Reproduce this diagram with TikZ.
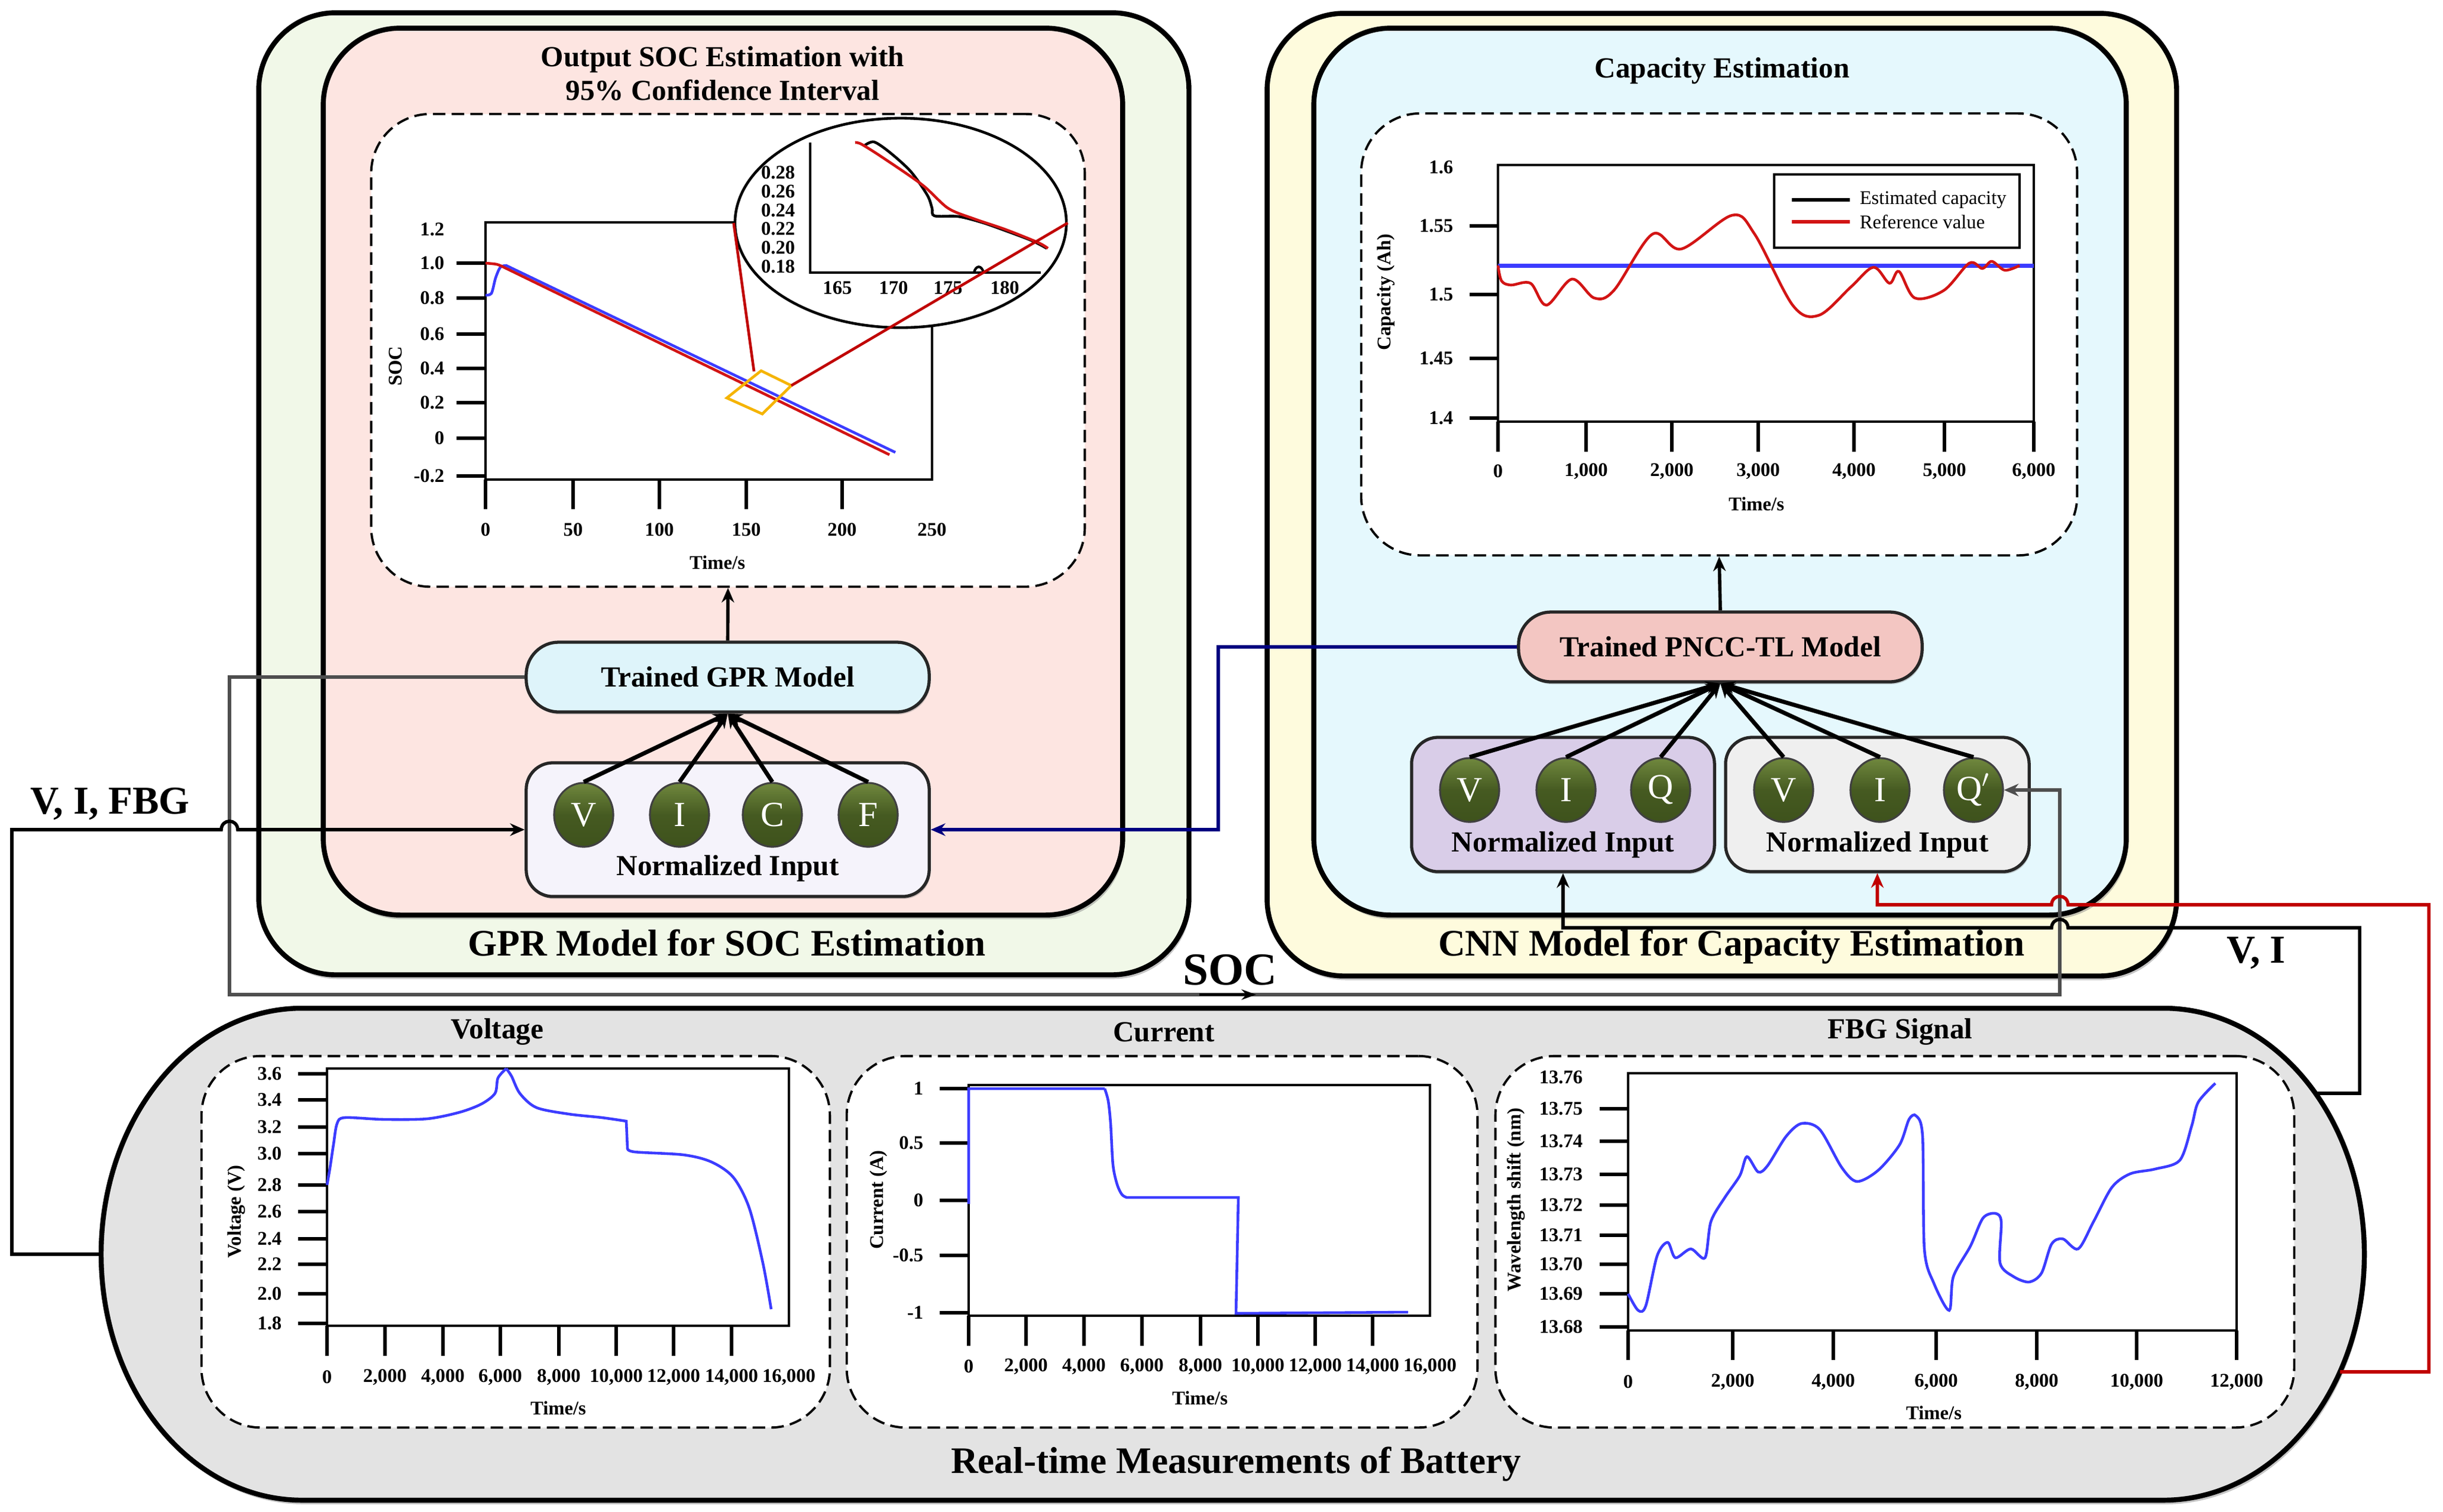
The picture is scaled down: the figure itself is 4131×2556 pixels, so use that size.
\documentclass[tikz,border=0pt]{standalone}
\usepackage{fontspec}
\setmainfont{Liberation Serif}
\usetikzlibrary{arrows.meta,shapes.geometric,shadows}
\definecolor{gprgreen}{RGB}{241,248,232}
\definecolor{gprpink}{RGB}{253,229,225}
\definecolor{cnnyellow}{RGB}{254,251,221}
\definecolor{cnncyan}{RGB}{229,248,253}
\definecolor{modelcyan}{RGB}{222,244,250}
\definecolor{modelpink}{RGB}{243,198,194}
\definecolor{inlav}{RGB}{245,243,251}
\definecolor{inpurple}{RGB}{217,205,232}
\definecolor{ingray}{RGB}{239,239,239}
\definecolor{batgray}{RGB}{227,227,227}
\definecolor{olivetop}{RGB}{112,136,62}
\definecolor{olivebot}{RGB}{62,82,28}
\definecolor{navyc}{RGB}{0,0,128}
\definecolor{redc}{RGB}{192,0,0}
\definecolor{grayc}{RGB}{78,78,78}
\definecolor{plotblue}{RGB}{60,60,255}
\definecolor{plotred}{RGB}{210,20,20}
\definecolor{amberc}{RGB}{245,180,0}
\tikzset{
  bigbox/.style={draw=black, line width=2.4pt, rounded corners=13mm, inner sep=0pt,
    drop shadow={shadow xshift=0.3mm, shadow yshift=-0.7mm, opacity=0.45}},
  dashbox/.style={draw=black, dash pattern=on 6pt off 3pt, line width=1.1pt, fill=white,
    rounded corners=10mm, inner sep=0pt},
  modelbox/.style={draw=black!85, line width=1.5pt, rounded corners=5.5mm, inner sep=0pt,
    font=\fontsize{14}{16}\selectfont\bfseries,
    drop shadow={shadow xshift=0.2mm, shadow yshift=-0.4mm, opacity=0.4}},
  inbox/.style={draw=black!85, line width=1.5pt, rounded corners=4.5mm, inner sep=0pt,
    drop shadow={shadow xshift=0.2mm, shadow yshift=-0.4mm, opacity=0.4}},
  inball/.style={ellipse, draw=black!75, line width=0.9pt, top color=olivetop, bottom color=olivebot,
    middle color=olivebot!85!olivetop,
    minimum width=10mm, minimum height=10.8mm, inner sep=0pt, text=white,
    font=\fontsize{17}{19}\selectfont},
  conn/.style={line width=1.6pt, -{Stealth[length=7pt,width=6pt]}},
  plainconn/.style={line width=1.6pt},
  linkarrow/.style={line width=2pt, -{Stealth[length=7pt,width=6pt]}},
  ttl/.style={font=\fontsize{14}{16.2}\selectfont\bfseries, inner sep=0pt, align=center},
  bigttl/.style={font=\fontsize{18}{21}\selectfont\bfseries, inner sep=0pt},
  sigttl/.style={font=\fontsize{19}{22}\selectfont\bfseries, inner sep=0pt},
  ticklab/.style={font=\fontsize{9.3}{11}\selectfont\bfseries, inner sep=0pt},
  axlab/.style={font=\fontsize{9.3}{11}\selectfont\bfseries, inner sep=0pt},
  leglab/.style={font=\fontsize{9.3}{11}\selectfont, inner sep=0pt, anchor=west},
  pframe/.style={line width=1.3pt},
  ptick/.style={line width=1.5pt},
  bluecurve/.style={plotblue, line width=1.3pt},
  redcurve/.style={plotred, line width=1.3pt}
}
\begin{document}
\begin{tikzpicture}[x=0.01cm, y=-0.01cm]
\useasboundingbox (0,0) rectangle (4131,2556);

% ================= GPR block =================
\node[bigbox, fill=gprgreen, minimum width=15.72cm, minimum height=16.26cm] (gprouter) at (1224,835) {};
\node[bigbox, fill=gprpink, minimum width=13.51cm, minimum height=14.99cm] (gprinner) at (1222.5,797.5) {};
\node[ttl] (gprtitle) at (1222,124) {Output SOC Estimation with\\95\% Confidence Interval};
\node[dashbox, minimum width=12.06cm, minimum height=7.99cm] (gprdash) at (1231,592.5) {};
\node[bigttl] (gprlabel) at (1229,1594) {GPR Model for SOC Estimation};

% SOC plot
\draw[pframe] (821,376) rectangle (1576,811);
\foreach \v/\yy [count=\i] in {1.2/388,1.0/445,0.8/504,0.6/565,0.4/623,0.2/681,0/741,-0.2/805}
  \node[ticklab, anchor=east] (socy\i) at (752,\yy) {\v};
\foreach \yy in {445,504,565,623,681,741,805} \draw[ptick] (772,\yy) -- (821,\yy);
\foreach \v/\xx [count=\i] in {0/821,50/969,100/1115,150/1262,200/1424,250/1576}
  \node[ticklab] (socx\i) at (\xx,896) {\v};
\foreach \xx in {821,969,1115,1262,1424} \draw[ptick] (\xx,811) -- (\xx,861);
\node[axlab] (socxl) at (1213,951) {Time/s};
\node[axlab, rotate=90] (socyl) at (669,619) {SOC};
\draw[bluecurve] plot[smooth, tension=0.5] coordinates {(821,499) (831,496) (838,470) (846,452) (856,449)} -- (1514,765);
\draw[redcurve] plot[smooth, tension=0.5] coordinates {(821,445) (840,447) (852,452)} -- (1504,769);
\coordinate (ysqT) at (1287,627);
\coordinate (ysqR) at (1338,652);
\coordinate (ysqB) at (1289,700);
\coordinate (ysqL) at (1229,673);
\draw[amberc, line width=1.3pt] (ysqT) -- (ysqR) -- (ysqB) -- (ysqL) -- cycle;
% zoom inset
\node[ellipse, draw, line width=1.3pt, fill=white, minimum width=5.60cm, minimum height=3.54cm, inner sep=0pt] (zoomc) at (1523,377) {};
\draw[line width=1.2pt] (1370,241) -- (1370,461) -- (1760,461);
\foreach \v/\yy [count=\i] in {0.28/292,0.26/324,0.24/356,0.22/387,0.20/419,0.18/451}
  \node[ticklab, anchor=east] (insy\i) at (1345,\yy) {\v};
\foreach \v/\xx [count=\i] in {165/1416,170/1511,175/1603,180/1699}
  \node[ticklab] (insx\i) at (\xx,487) {\v};
\draw[black, line width=1.3pt] plot[smooth, tension=0.5] coordinates {(1462,246) (1478,240) (1505,258) (1540,290) (1568,330) (1576,352) (1580,365) (1620,366) (1660,376) (1700,390) (1745,407) (1770,420)};
\draw[redcurve] plot[smooth, tension=0.5] coordinates {(1446,241) (1457,244) (1495,268) (1560,313) (1603,352) (1647,370) (1700,388) (1755,410) (1772,420)};
\draw[black, line width=1.2pt] (1647,461) .. controls (1650,448) and (1660,448) .. (1663,461);
\draw[redc, line width=1.3pt] (1275,628) -- (zoomc.west);
\draw[redc, line width=1.3pt] (ysqR) -- (zoomc.east);

% model and inputs
\node[modelbox, fill=modelcyan, minimum width=6.81cm, minimum height=1.18cm] (gprmodel) at (1230.5,1145) {Trained GPR Model};
\node[inbox, fill=inlav, minimum width=6.81cm, minimum height=2.26cm] (gprin) at (1230.5,1403) {};
\node[ttl] (gprintxt) at (1230.5,1469) {Normalized Input};
\node[inball] (gV) at (987,1378) {V};
\node[inball] (gI) at (1149,1378) {I};
\node[inball] (gC) at (1306,1378) {C};
\node[inball] (gF) at (1468,1378) {F};
\foreach \c in {gV,gI,gC,gF} \draw[linkarrow] (\c.north) -- (gprmodel.south);
\draw[conn] (gprmodel.north) -- (gprdash.south);

% ================= CNN block =================
\node[bigbox, fill=cnnyellow, minimum width=15.37cm, minimum height=16.27cm] (cnnouter) at (2911.5,836.5) {};
\node[bigbox, fill=cnncyan, minimum width=13.73cm, minimum height=14.99cm] (cnninner) at (2908.5,797.5) {};
\node[ttl] (cnntitle) at (2912,120) {Capacity Estimation};
\node[dashbox, minimum width=12.10cm, minimum height=7.47cm] (cnndash) at (2907,565.5) {};
\node[bigttl] (cnnlabel) at (2928,1601) {CNN Model for Capacity Estimation};

% capacity plot
\draw[pframe] (2533,279) rectangle (3439,713);
\foreach \v/\yy [count=\i] in {1.6/283,1.55/382,1.5/498,1.45/606,1.4/707}
  \node[ticklab, anchor=east] (capy\i) at (2458,\yy) {\v};
\foreach \yy in {382,498,606,707} \draw[ptick] (2485,\yy) -- (2533,\yy);
\foreach \v/\xx [count=\i] in {0/2533,{1,000}/2682,{2,000}/2827,{3,000}/2973,{4,000}/3135,{5,000}/3288,{6,000}/3439}
  \node[ticklab] (capx\i) at (\xx,797) {\v};
\foreach \xx in {2533,2682,2827,2973,3135,3288,3439} \draw[ptick] (\xx,713) -- (\xx,764);
\node[axlab] (capxl) at (2970,852) {Time/s};
\node[axlab, rotate=90] (capyl) at (2344,494) {Capacity (Ah)};
\draw[plotblue, line width=2pt] (2533,449) -- (3439,449);
\draw[redcurve] plot[smooth, tension=0.55] coordinates {(2533,449) (2539,475) (2555,482) (2588,479) (2615,516) (2658,472) (2696,504) (2729,491) (2794,396) (2843,421) (2929,364) (2967,396) (3032,517) (3076,533) (3130,485) (3168,452) (3195,479) (3211,459) (3238,504) (3287,491) (3330,445) (3352,454) (3368,442) (3390,457) (3415,449)};
\draw[line width=1.3pt, fill=white] (3000,295) rectangle (3415,419);
\draw[black, line width=1.5pt] (3030,338) -- (3128,338);
\draw[plotred, line width=1.5pt] (3030,375) -- (3128,375);
\node[leglab] (leg1) at (3144,338) {Estimated capacity};
\node[leglab] (leg2) at (3144,375) {Reference value};

% model and inputs
\node[modelbox, fill=modelpink, minimum width=6.82cm, minimum height=1.18cm] (pncc) at (2909,1094) {Trained PNCC-TL Model};
\node[inbox, fill=inpurple, minimum width=5.12cm, minimum height=2.27cm] (cnnin1) at (2643,1360.5) {};
\node[inbox, fill=ingray, minimum width=5.13cm, minimum height=2.27cm] (cnnin2) at (3174.5,1360.5) {};
\node[ttl] (cnnin1txt) at (2643,1429) {Normalized Input};
\node[ttl] (cnnin2txt) at (3174.5,1429) {Normalized Input};
\node[inball] (cV1) at (2485,1336) {V};
\node[inball] (cI1) at (2648,1336) {I};
\node[inball] (cQ1) at (2808,1336) {Q};
\node[inball] (cV2) at (3016,1336) {V};
\node[inball] (cI2) at (3179,1336) {I};
\node[inball] (cQ2) at (3337,1336) {Q$'$};
\foreach \c in {cV1,cI1,cQ1,cV2,cI2,cQ2} \draw[linkarrow] (\c.north) -- (pncc.south);
\draw[conn] (pncc.north) -- (cnndash.south);

% ================= Battery block =================
\draw[line width=2.4pt, fill=batgray, drop shadow={shadow xshift=0.3mm, shadow yshift=-0.7mm, opacity=0.45}]
  (511,1705) -- (3658,1705) .. controls (3846,1705) and (3998,1891) .. (3998,2121)
  .. controls (3998,2351) and (3846,2537) .. (3658,2537) -- (511,2537)
  .. controls (323,2537) and (171,2351) .. (171,2121)
  .. controls (171,1891) and (323,1705) .. (511,1705) -- cycle;
\node[ttl] (vttl) at (841,1745) {Voltage};
\node[ttl] (ittl) at (1968,1745) {Current};
\node[ttl] (fttl) at (3213,1745) {FBG Signal};
\node[bigttl] (batlabel) at (2090,2476) {Real-time Measurements of Battery};
\node[dashbox, minimum width=10.62cm, minimum height=6.28cm] (vdash) at (872,2100) {};
\node[dashbox, minimum width=10.66cm, minimum height=6.28cm] (idash) at (1965,2100) {};
\node[dashbox, minimum width=13.50cm, minimum height=6.28cm] (fdash) at (3204,2100) {};

% voltage plot
\draw[pframe] (553,1807) rectangle (1334,2242);
\foreach \v/\yy [count=\i] in {3.6/1816,3.4/1860,3.2/1906,3.0/1951,2.8/2004,2.6/2049,2.4/2095,2.2/2138,2.0/2188,1.8/2238}
  {\node[ticklab, anchor=east] (vy\i) at (477,\yy) {\v};
   \draw[ptick] (504,\yy) -- (553,\yy);}
\foreach \v/\xx [count=\i] in {0/553,{2,000}/651,{4,000}/749,{6,000}/846,{8,000}/945,{10,000}/1042,{12,000}/1139,{14,000}/1237,{16,000}/1334}
  \node[ticklab] (vx\i) at (\xx,2329) {\v};
\foreach \xx in {553,651,749,846,945,1042,1139,1237} \draw[ptick] (\xx,2242) -- (\xx,2293);
\node[axlab] (vxl) at (944,2381) {Time/s};
\node[axlab, rotate=90] (vyl) at (400,2049) {Voltage (V)};
\draw[bluecurve] plot[smooth, tension=0.5] coordinates {(553,2004) (558,1975) (564,1935) (570,1900) (583,1890) (648,1893) (722,1892) (777,1881) (814,1867) (837,1849) (842,1823) (856,1807)};
\draw[bluecurve] plot[smooth, tension=0.5] coordinates {(856,1807) (865,1820) (879,1849) (907,1873) (962,1884) (1018,1890) (1059,1896)} -- (1061,1942);
\draw[bluecurve] plot[smooth, tension=0.5] coordinates {(1061,1942) (1073,1948) (1156,1953) (1203,1965) (1240,1991) (1267,2043) (1290,2136) (1304,2214)};

% current plot
\draw[pframe] (1638,1835) rectangle (2418,2225);
\foreach \v/\yy [count=\i] in {1/1841,0.5/1933,0/2030,-0.5/2123,-1/2220}
  {\node[ticklab, anchor=east] (iy\i) at (1562,\yy) {\v};
   \draw[ptick] (1589,\yy) -- (1638,\yy);}
\foreach \v/\xx [count=\i] in {0/1638,{2,000}/1735,{4,000}/1833,{6,000}/1931,{8,000}/2030,{10,000}/2127,{12,000}/2224,{14,000}/2321,{16,000}/2418}
  \node[ticklab] (ix\i) at (\xx,2311) {\v};
\foreach \xx in {1638,1735,1833,1931,2030,2127,2224,2321} \draw[ptick] (\xx,2225) -- (\xx,2276);
\node[axlab] (ixl) at (2029,2364) {Time/s};
\node[axlab, rotate=90] (iyl) at (1486,2029) {Current (A)};
\draw[bluecurve] (1638,2036) -- (1638,1841) -- (1868,1841)
  plot[smooth, tension=0.5] coordinates {(1868,1841) (1874,1862) (1878,1900) (1882,1970) (1889,2003) (1897,2020) (1905,2025)}
  -- (2094,2025) -- (2090,2221) -- (2381,2219);

% FBG plot
\draw[pframe] (2753,1815) rectangle (3782,2250);
\foreach \v/\yy [count=\i] in {13.76/1822,13.75/1875,13.74/1930,13.73/1986,13.72/2038,13.71/2089,13.70/2138,13.69/2188,13.68/2244}
  \node[ticklab, anchor=east] (fy\i) at (2677,\yy) {\v};
\foreach \yy in {1875,1930,1986,2038,2089,2138,2188,2244} \draw[ptick] (2705,\yy) -- (2753,\yy);
\foreach \v/\xx [count=\i] in {0/2753,{2,000}/2930,{4,000}/3100,{6,000}/3274,{8,000}/3444,{10,000}/3613,{12,000}/3782}
  \node[ticklab] (fx\i) at (\xx,2337) {\v};
\foreach \xx in {2753,2930,3100,3274,3444,3613,3782} \draw[ptick] (\xx,2250) -- (\xx,2300);
\node[axlab] (fxl) at (3270,2389) {Time/s};
\node[axlab, rotate=90] (fyl) at (2564,2029) {Wavelength shift (nm)};
\draw[bluecurve] plot[smooth, tension=0.5] coordinates {(2753,2188) (2770,2216) (2783,2208) (2802,2124) (2820,2101) (2833,2127) (2859,2112) (2883,2127) (2893,2066) (2916,2026) (2942,1988) (2954,1956) (2973,1982) (2989,1971) (3020,1922) (3046,1900) (3077,1910) (3114,1974) (3140,1998) (3176,1979) (3212,1936) (3228,1893) (3240,1887) (3251,1922) (3254,2112) (3270,2170) (3296,2216) (3303,2159) (3332,2107) (3353,2060) (3374,2052) (3384,2066) (3382,2136) (3405,2159) (3431,2168) (3452,2153) (3469,2104) (3488,2095) (3514,2112) (3540,2066) (3571,2008) (3602,1985) (3644,1977) (3686,1962) (3706,1904) (3717,1864) (3746,1832)};

% ================= Connectors =================
\coordinate (batL) at (171,2121);
\coordinate (batR1) at (3915,1849);
\coordinate (batR2) at (3957,2320);
% SOC feedback (gray)
\draw[conn, grayc] (gprmodel.west) -- (388,1145) -- (388,1682) -- (3483,1682) -- (3483,1336) -- (cQ2.east);
\coordinate (socA) at (2028,1682);
\coordinate (socB) at (2124,1682);
\draw[black, line width=1pt, -{Stealth[length=7pt,width=5pt]}] (socA) -- (socB);
\node[sigttl, font=\fontsize{22}{24}\selectfont\bfseries] (soclab) at (2080,1640) {SOC};
% V, I, FBG (black)
\draw[conn] (batL) -- (20,2121) -- (20,1403) -- (374,1403) .. controls (375,1384) and (401,1384) .. (402,1403) -- (gprin.west);
\node[sigttl] (vifbg) at (186,1360) {V, I, FBG};
% capacity to GPR (navy)
\draw[conn, navyc] (pncc.west) -- (2060,1094) -- (2060,1403) -- (gprin.east);
% V, I to CNN (black)
\draw[conn] (batR1) -- (3990,1849) -- (3990,1569) -- (3497,1569) .. controls (3496,1550) and (3470,1550) .. (3469,1569) -- (2643,1569) -- (cnnin1.south);
\node[sigttl] (vilab) at (3815,1612) {V, I};
% FBG to CNN (red)
\draw[conn, redc] (batR2) -- (4107,2320) -- (4107,1530) -- (3497,1530) .. controls (3496,1511) and (3470,1511) .. (3469,1530) -- (3174.5,1530) -- (cnnin2.south);
\end{tikzpicture}
\end{document}
